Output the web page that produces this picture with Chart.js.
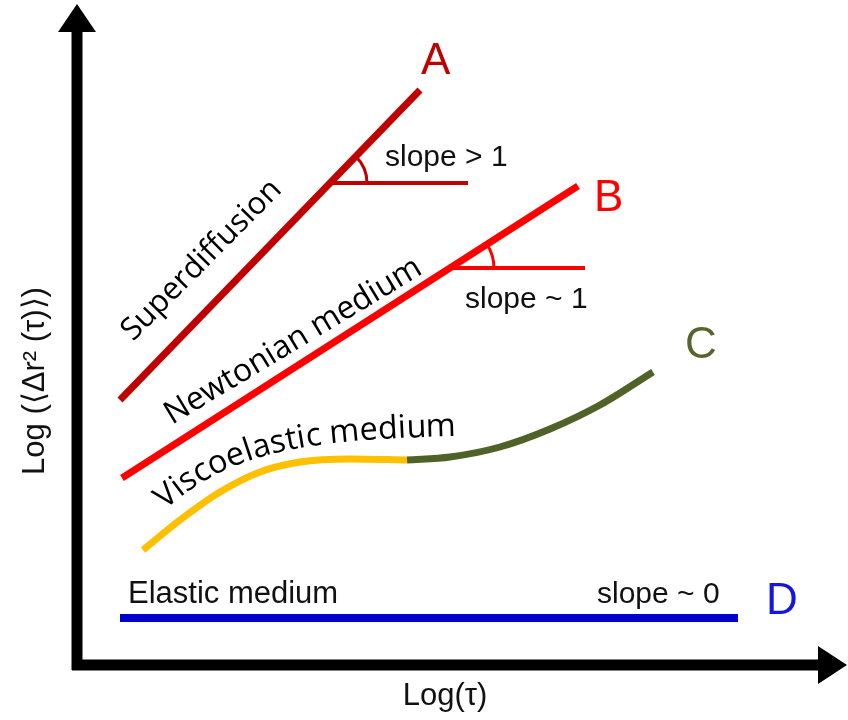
<!DOCTYPE html>
<html>
<head>
<meta charset="utf-8">
<script src="https://cdn.jsdelivr.net/npm/chart.js@4"></script>
<style>
  body { margin: 0; background: #fff; }
  #wrap { width: 848px; height: 720px; }
</style>
</head>
<body>
<div id="wrap"><canvas id="chart" width="848" height="720"></canvas></div>
<script>
// data in log units (x = Log(tau), y = Log MSD), origin at the axes corner
const superX = [0.43, 3.43];
const superY = [2.65, 5.75];
const newtonX = [0.45, 5.01];
const newtonY = [1.87, 4.79];
const viscoX = [0.66, 1.03, 1.43, 1.83, 2.23, 2.73, 3.30];
const viscoY = [1.15, 1.45, 1.73, 1.93, 2.03, 2.06, 2.05];
const viscoX2 = [3.30, 3.73, 4.23, 4.73, 5.23, 5.76];
const viscoY2 = [2.05, 2.08, 2.18, 2.36, 2.60, 2.93];
const elasticX = [0.43, 6.61];
const elasticY = [0.47, 0.47];
// reference lines for the slope marks
const refAX = [2.56, 3.91];
const refAY = [4.82, 4.82];
const refBX = [3.73, 5.08];
const refBY = [3.97, 3.97];

const pts = (xs, ys) => xs.map((x, i) => ({ x: x, y: ys[i] }));

function lineSet(xs, ys, color, width, smooth) {
  return {
    data: pts(xs, ys),
    borderColor: color,
    borderWidth: width,
    pointRadius: 0,
    showLine: true,
    borderCapStyle: "butt",
    cubicInterpolationMode: smooth ? "monotone" : "default",
    tension: smooth ? 0.4 : 0
  };
}

const open = "'Open Sans', 'DejaVu Sans', sans-serif";
const arial = "'Liberation Sans', Arial, sans-serif";

// font size so that the text fills a given length
function fitFont(c, txt, len) {
  c.font = "30px " + open;
  const w = c.measureText(txt).width;
  return 30 * len / w;
}

// text along a straight baseline from (x0,y0) to (x1,y1)
function textAlong(c, txt, x0, y0, x1, y1) {
  const len = Math.hypot(x1 - x0, y1 - y0);
  const size = fitFont(c, txt, len);
  c.save();
  c.font = size + "px " + open;
  c.translate(x0, y0);
  c.rotate(Math.atan2(y1 - y0, x1 - x0));
  c.textAlign = "left";
  c.fillText(txt, 0, 0);
  c.restore();
}

// axes, arrows, angle arcs and labels
const extras = {
  id: "extras",
  beforeDatasetsDraw(chart) {
    const c = chart.ctx;
    const sx = chart.scales.x, sy = chart.scales.y;
    const ox = sx.getPixelForValue(0), oy = sy.getPixelForValue(0);
    c.save();
    c.strokeStyle = "#000";
    c.fillStyle = "#000";
    c.lineWidth = 11;
    c.beginPath();
    c.moveTo(ox, oy + 5);
    c.lineTo(ox, 28);
    c.moveTo(ox - 5, oy);
    c.lineTo(820, oy);
    c.stroke();
    // arrow heads
    c.beginPath();
    c.moveTo(ox, 4);
    c.lineTo(ox - 19, 32);
    c.lineTo(ox + 19, 32);
    c.closePath();
    c.fill();
    c.beginPath();
    c.moveTo(847, oy);
    c.lineTo(818, oy - 19);
    c.lineTo(818, oy + 19);
    c.closePath();
    c.fill();
    c.restore();
  },
  afterDatasetsDraw(chart) {
    const c = chart.ctx;
    const sx = chart.scales.x, sy = chart.scales.y;
    c.save();
    // slope arcs
    function arc(xs, ys, refY, r, color) {
      const x0 = sx.getPixelForValue(xs[0]), y0 = sy.getPixelForValue(ys[0]);
      const x1 = sx.getPixelForValue(xs[1]), y1 = sy.getPixelForValue(ys[1]);
      const cy = sy.getPixelForValue(refY);
      const cx = x0 + (cy - y0) * (x1 - x0) / (y1 - y0);
      const ang = Math.atan2(y1 - y0, x1 - x0);
      c.strokeStyle = color;
      c.lineWidth = 3;
      c.beginPath();
      c.arc(cx, cy, r, ang, 0);
      c.stroke();
    }
    arc(superX, superY, refAY[0], 37, "#C00000");
    arc(newtonX, newtonY, refBY[0], 44, "#FF0000");

    c.textBaseline = "alphabetic";
    c.textAlign = "left";
    c.font = "44px " + arial;
    c.fillStyle = "#C00000"; c.fillText("A", 421, 74);
    c.fillStyle = "#FF0000"; c.fillText("B", 594, 211);
    c.fillStyle = "#55652C"; c.fillText("C", 685, 358);
    c.fillStyle = "#1515E0"; c.fillText("D", 766, 614);

    c.fillStyle = "#111";
    c.font = "30px " + arial;
    c.fillText("slope > 1", 385, 166);
    c.fillText("slope ~ 1", 465, 308);
    c.fillText("slope ~ 0", 597, 603);
    c.font = "31px " + arial;
    c.fillText("Elastic medium", 128, 603);

    // axis titles
    c.font = "31px " + arial;
    c.textAlign = "center";
    c.fillText("Log(\u03c4)", 445, 705);
    c.save();
    c.translate(44, 381);
    c.rotate(-Math.PI / 2);
    c.font = "31px " + arial;
    c.fillText("Log (\u27e8\u0394r\u00b2 (\u03c4)\u27e9)", 0, 0);
    c.restore();

    // labels along lines
    c.fillStyle = "#000";
    textAlong(c, "Superdiffusion", 133, 342, 283, 191);
    textAlong(c, "Newtonian medium", 172, 425, 424, 273);

    // curved label following the viscoelastic curve
    const txt = "Viscoelastic medium";
    const P = [[165, 510], [230, 452], [300, 440], [456, 436]];
    const bez = (t) => {
      const u = 1 - t;
      return [
        u*u*u*P[0][0] + 3*u*u*t*P[1][0] + 3*u*t*t*P[2][0] + t*t*t*P[3][0],
        u*u*u*P[0][1] + 3*u*u*t*P[1][1] + 3*u*t*t*P[2][1] + t*t*t*P[3][1]
      ];
    };
    const samples = [];
    let len = 0, prev = bez(0);
    samples.push({ l: 0, p: prev });
    for (let i = 1; i <= 400; i++) {
      const p = bez(i / 400);
      len += Math.hypot(p[0] - prev[0], p[1] - prev[1]);
      samples.push({ l: len, p: p });
      prev = p;
    }
    const size = fitFont(c, txt, len);
    c.font = size + "px " + open;
    let pos = 0;
    c.textAlign = "left";
    for (const ch of txt) {
      const w = c.measureText(ch).width;
      let k = samples.findIndex(s => s.l >= pos + w / 2);
      if (k < 1) k = 1;
      const a = samples[k - 1].p, b = samples[Math.min(k + 1, samples.length - 1)].p;
      const ang = Math.atan2(b[1] - a[1], b[0] - a[0]);
      const m = samples[k].p;
      c.save();
      c.translate(m[0], m[1]);
      c.rotate(ang);
      c.fillText(ch, -w / 2, 0);
      c.restore();
      pos += w;
    }
    c.restore();
  }
};

new Chart(document.getElementById("chart").getContext("2d"), {
  type: "scatter",
  data: {
    datasets: [
      lineSet(superX, superY, "#C00000", 7, false),
      lineSet(refAX, refAY, "#C00000", 4, false),
      lineSet(newtonX, newtonY, "#FF0000", 7, false),
      lineSet(refBX, refBY, "#FF0000", 4, false),
      lineSet(viscoX, viscoY, "#FFC000", 7, true),
      lineSet(viscoX2, viscoY2, "#4F6228", 7, true),
      lineSet(elasticX, elasticY, "#0000CC", 8, false)
    ]
  },
  options: {
    responsive: false,
    animation: false,
    devicePixelRatio: 1,
    layout: { padding: 0 },
    scales: {
      x: { type: "linear", min: -0.77, max: 7.71, display: false },
      y: { type: "linear", min: -0.55, max: 6.65, display: false }
    },
    plugins: {
      legend: { display: false },
      tooltip: { enabled: false }
    }
  },
  plugins: [extras]
});
</script>
</body>
</html>
